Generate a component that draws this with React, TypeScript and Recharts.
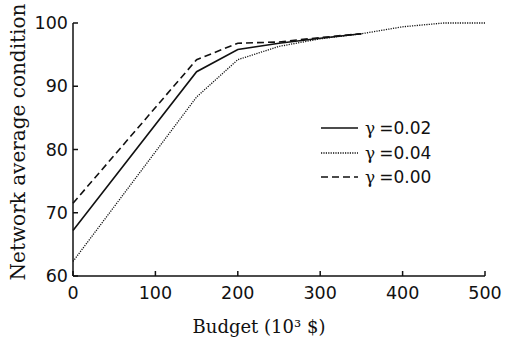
import React from 'react';
import { LineChart, Line, XAxis, YAxis, Legend, Label } from 'recharts';

const budgets = [0, 150, 200, 250, 300, 350, 400, 450, 500];
const gamma002 = [67.2, 92.3, 95.8, 96.8, 97.6, 98.3, null, null, null];
const gamma004 = [62.3, 88.3, 94.2, 96.3, 97.5, 98.3, 99.4, 100, 100];
const gamma000 = [71.5, 94.2, 96.8, 97.0, 97.7, 98.3, null, null, null];
const xTicks = [0, 100, 200, 300, 400, 500];
const yTicks = [60, 70, 80, 90, 100];

const series = [
  { key: 'g002', label: '0.02', dash: undefined as string | undefined, width: 1.6 },
  { key: 'g004', label: '0.04', dash: '1.2 1.2', width: 1.3 },
  { key: 'g000', label: '0.00', dash: '7 4', width: 1.6 },
];

const data = budgets.map((b, i) => ({
  budget: b,
  g002: gamma002[i],
  g004: gamma004[i],
  g000: gamma000[i],
}));

const tickFont = { fontFamily: 'DejaVu Sans', fontSize: 17.5, fill: '#111' };

const LegendContent = () => (
  <div style={{ display: 'flex', flexDirection: 'column', gap: 0 }}>
    {series.map((s) => (
      <div key={s.key} style={{ display: 'flex', alignItems: 'center', height: 24.5 }}>
        <svg width={40} height={10} style={{ marginRight: 5 }}>
          <line x1={1} y1={5} x2={38} y2={5} stroke="#111" strokeWidth={s.width} strokeDasharray={s.dash} />
        </svg>
        <span style={{ fontFamily: 'DejaVu Serif', fontSize: 17, color: '#111' }}>γ</span>
        <span style={{ fontFamily: 'DejaVu Sans', fontSize: 17, color: '#111', marginLeft: 4 }}>={s.label}</span>
      </div>
    ))}
  </div>
);

export default function App() {
  return (
    <div style={{ position: 'absolute', left: 0, top: 0, width: 505, height: 341, background: '#fff' }}>
      <LineChart
        width={505}
        height={341}
        data={data}
        margin={{ top: 23, right: 20, bottom: 0, left: 0 }}
        style={{ overflow: 'visible' }}
      >
        <XAxis
          dataKey="budget"
          type="number"
          domain={[0, 500]}
          ticks={xTicks}
          height={65}
          tickSize={-5}
          tickMargin={16}
          tick={tickFont}
          stroke="#111"
          axisLine={{ stroke: '#111', strokeWidth: 1.5 }}
          tickLine={{ stroke: '#111', strokeWidth: 1.5 }}
        >
          <Label
            content={() => (
              <text x={259} y={333} textAnchor="middle" fontFamily="DejaVu Serif" fontSize={18} fill="#111">
                Budget (10³ $)
              </text>
            )}
          />
        </XAxis>
        <YAxis
          type="number"
          domain={[60, 100]}
          ticks={yTicks}
          width={73}
          tickSize={-5}
          tickMargin={10}
          tick={tickFont}
          stroke="#111"
          axisLine={{ stroke: '#111', strokeWidth: 1.5 }}
          tickLine={{ stroke: '#111', strokeWidth: 1.5 }}
        >
          <Label
            content={() => (
              <text
                x={25}
                y={142}
                textAnchor="middle"
                transform="rotate(-90 25 142)"
                fontFamily="DejaVu Serif"
                fontSize={20}
                fill="#111"
              >
                Network average condition
              </text>
            )}
          />
        </YAxis>
        <Legend
          layout="horizontal"
          verticalAlign="middle"
          align="center"
          content={<LegendContent />}
          wrapperStyle={{ position: 'absolute', left: 320, top: 116, width: 140 }}
        />
        {series.map((s) => (
          <Line
            key={s.key}
            dataKey={s.key}
            type="linear"
            stroke="#111"
            strokeWidth={s.width}
            strokeDasharray={s.dash}
            dot={false}
            activeDot={false}
            connectNulls={false}
            isAnimationActive={false}
          />
        ))}
      </LineChart>
    </div>
  );
}
